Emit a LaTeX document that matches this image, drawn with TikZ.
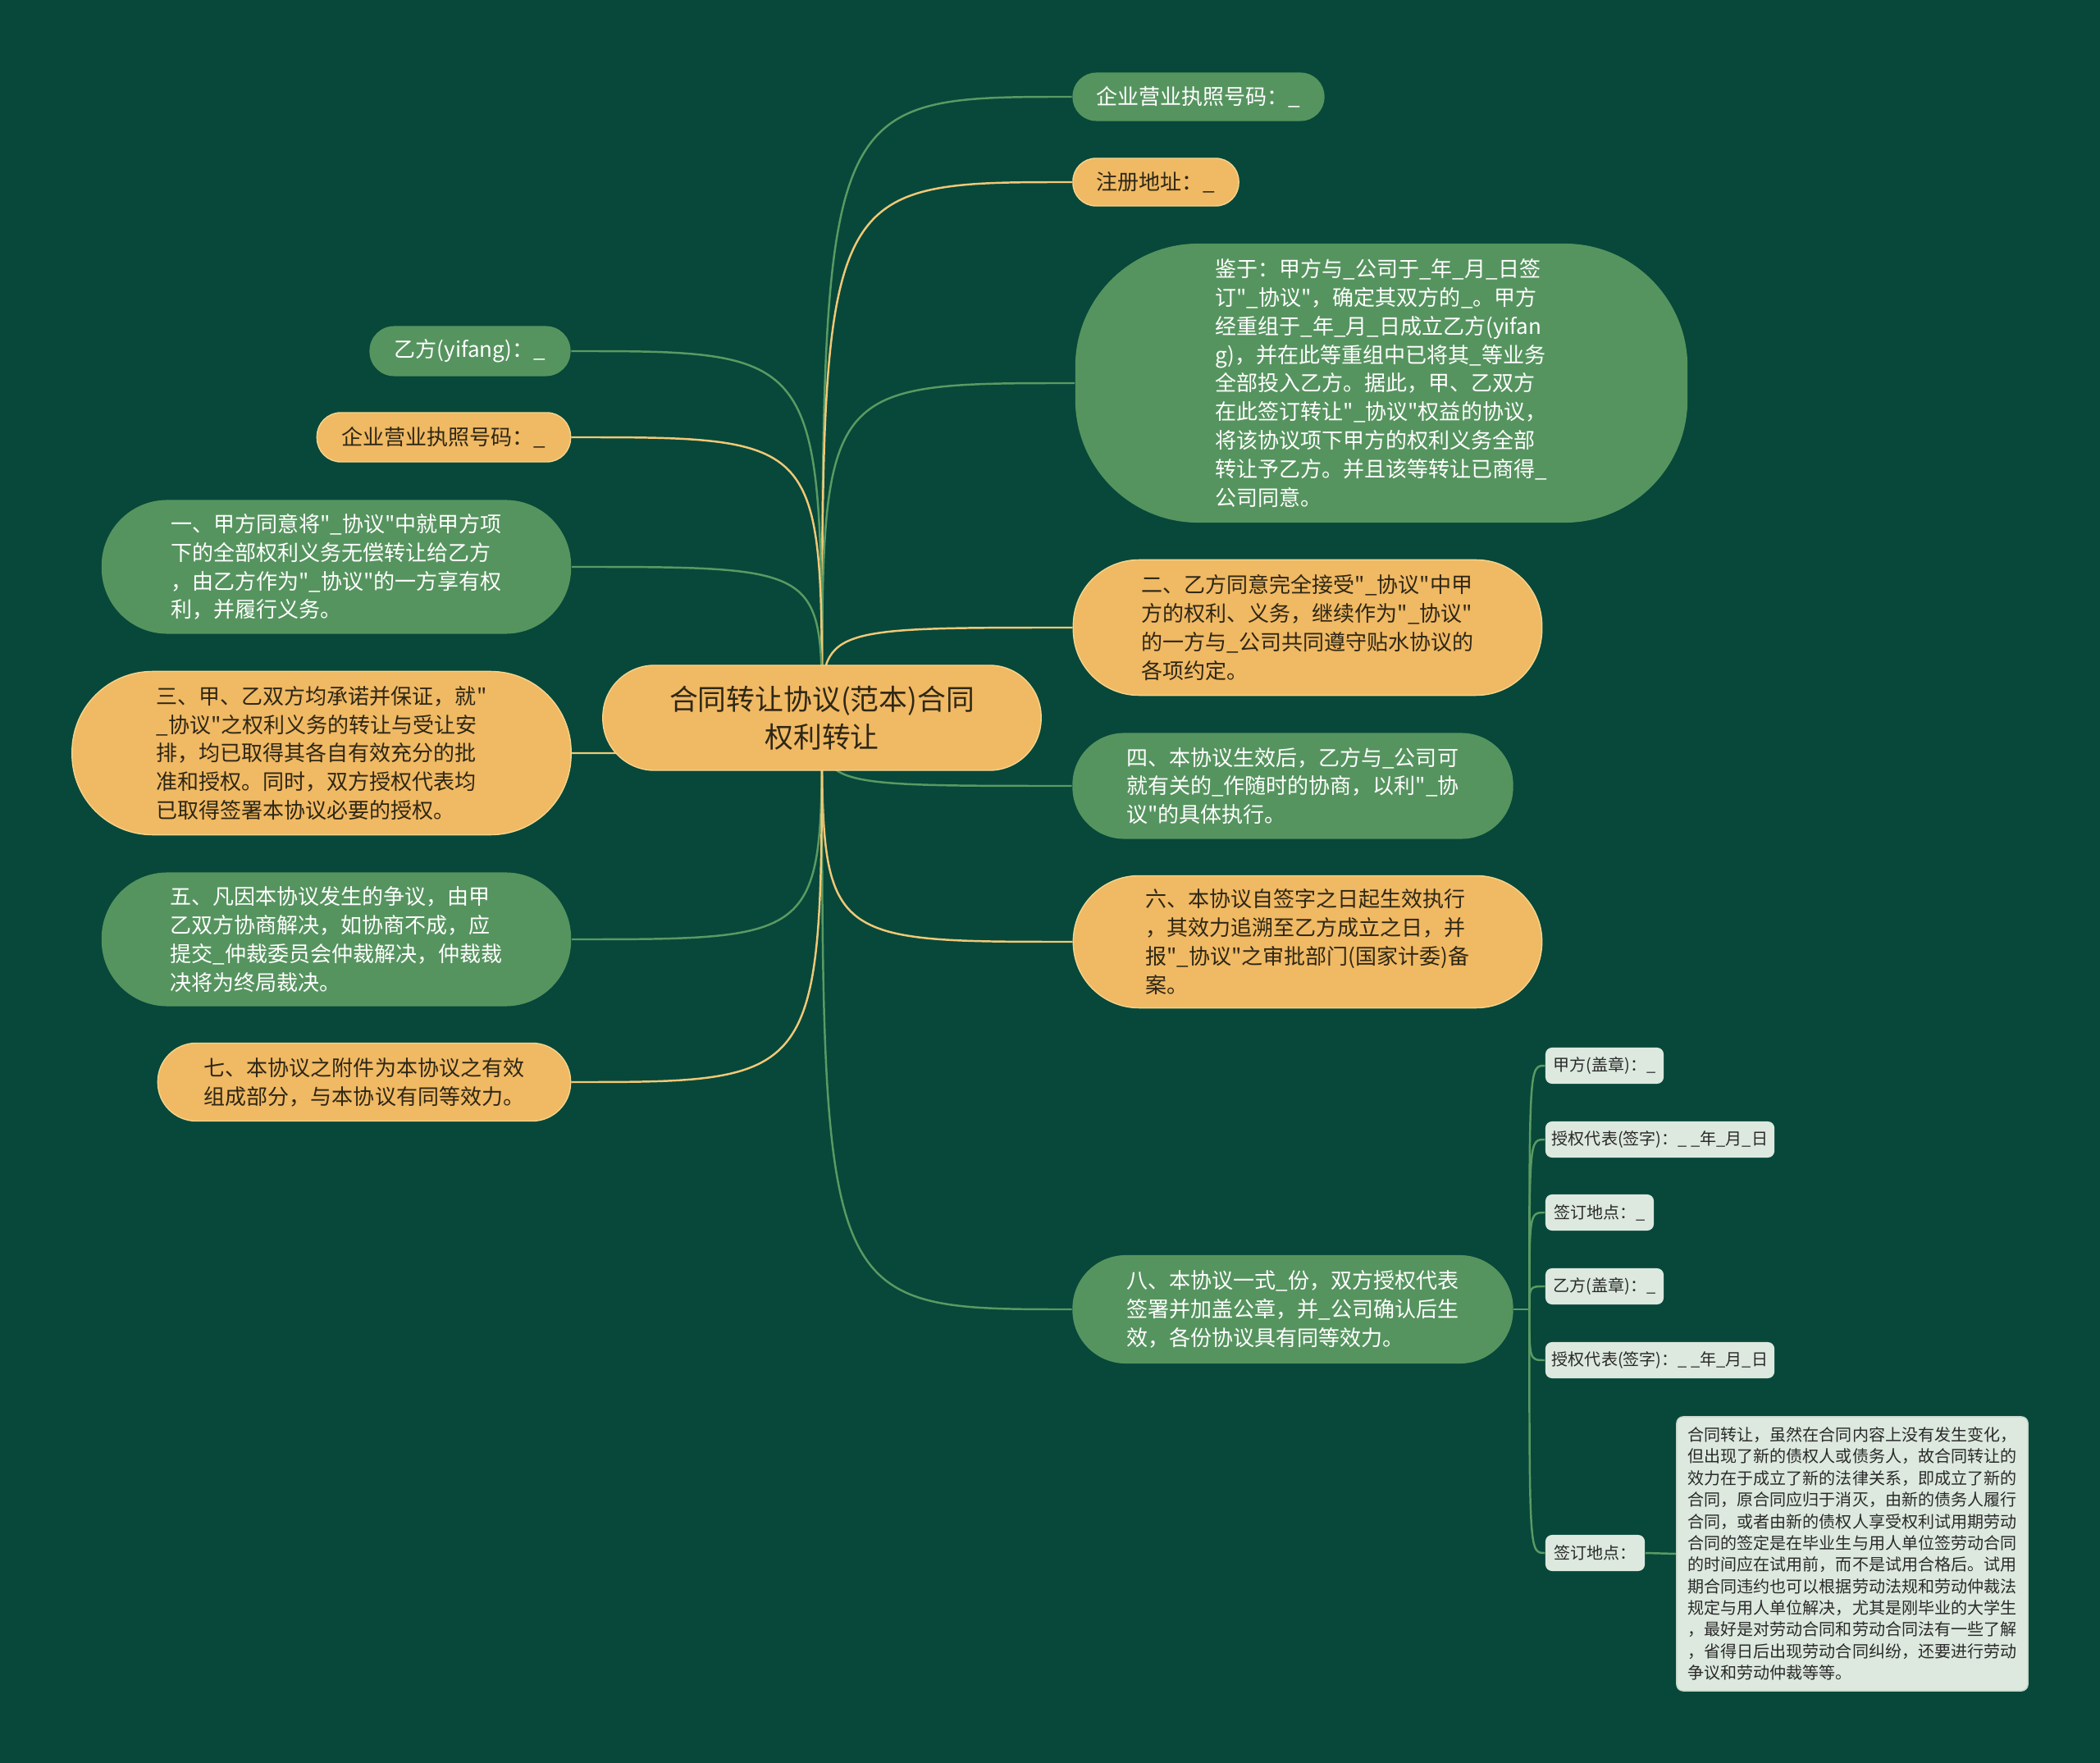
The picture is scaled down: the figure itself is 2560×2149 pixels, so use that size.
\documentclass[tikz,border=0pt]{standalone}
\usepackage{fontspec}
\setmainfont{Noto Sans CJK SC}[Ligatures=TeXOff]
\definecolor{bgc}{HTML}{07483A}
\definecolor{gfill}{HTML}{56945F}
\definecolor{ofill}{HTML}{F0B963}
\definecolor{oline}{HTML}{F6D48C}
\definecolor{lfill}{HTML}{DDE9DF}
\definecolor{lline}{HTML}{C5D6C8}
\definecolor{otext}{HTML}{2E2716}
\definecolor{ltext}{HTML}{2A2A2A}
\definecolor{glink}{HTML}{5A9A63}
\definecolor{olink}{HTML}{F2C877}
\pgfdeclarelayer{bg}
\pgfsetlayers{bg,main}
\tikzset{
  box/.style={inner sep=0pt, align=left, font=\fontsize{7.4pt}{9.9pt}\selectfont},
  gnode/.style={box, fill=gfill, text=white},
  onode/.style={box, fill=ofill, draw=oline, line width=0.4pt, text=otext},
  lnode/.style={inner sep=0pt, align=left, fill=lfill, text=ltext, rounded corners=0.08cm, font=\fontsize{5.7pt}{7.5pt}\selectfont},
  rootnode/.style={inner sep=0pt, align=center, fill=ofill, draw=oline, line width=0.4pt, text=otext, font=\fontsize{9.9pt}{13pt}\selectfont},
  glk/.style={draw=glink, line width=0.7pt},
  olk/.style={draw=olink, line width=0.7pt},
}
\begin{document}
\begin{tikzpicture}[x=0.01cm,y=-0.01cm]
\begin{pgfonlayer}{bg}
\fill[bgc] (0,0) rectangle (2560,2149);
\end{pgfonlayer}
\useasboundingbox (0,0) rectangle (2560,2149);

% root
\node[rootnode, minimum width=5.34cm, minimum height=1.28cm, rounded corners=0.63cm] (root) at (1002,875) {合同转让协议(范本)合同\\权利转让};

% right side
\node[gnode, minimum width=3.07cm, minimum height=0.59cm, rounded corners=0.29cm, align=center] (r1) at (1461,118) {企业营业执照号码：\_};
\node[onode, minimum width=2.02cm, minimum height=0.58cm, rounded corners=0.28cm, align=center] (r2) at (1409,222) {注册地址：\_};
\node[gnode, minimum width=7.46cm, minimum height=3.40cm, rounded corners=1.5cm] (r3) at (1684,467) {鉴于：甲方与\_公司于\_年\_月\_日签\\订"\_协议"，确定其双方的\_。甲方\\经重组于\_年\_月\_日成立乙方(yifan\\g)，并在此等重组中已将其\_等业务\\全部投入乙方。据此，甲、乙双方\\在此签订转让"\_协议"权益的协议，\\将该协议项下甲方的权利义务全部\\转让予乙方。并且该等转让已商得\_\\公司同意。};
\node[onode, minimum width=5.71cm, minimum height=1.65cm, rounded corners=0.8cm] (r4) at (1594,765) {二、乙方同意完全接受"\_协议"中甲\\方的权利、义务，继续作为"\_协议"\\的一方与\_公司共同遵守贴水协议的\\各项约定。};
\node[gnode, minimum width=5.37cm, minimum height=1.29cm, rounded corners=0.63cm] (r5) at (1576,958) {四、本协议生效后，乙方与\_公司可\\就有关的\_作随时的协商，以利"\_协\\议"的具体执行。};
\node[onode, minimum width=5.71cm, minimum height=1.61cm, rounded corners=0.8cm] (r6) at (1594,1148) {六、本协议自签字之日起生效执行\\，其效力追溯至乙方成立之日，并\\报"\_协议"之审批部门(国家计委)备\\案。};
\node[gnode, minimum width=5.37cm, minimum height=1.32cm, rounded corners=0.65cm] (r7) at (1576,1596) {八、本协议一式\_份，双方授权代表\\签署并加盖公章，并\_公司确认后生\\效，各份协议具有同等效力。};

% left side
\node[gnode, minimum width=2.45cm, minimum height=0.61cm, rounded corners=0.3cm, align=center] (l1) at (573,428) {乙方(yifang)：\_};
\node[onode, minimum width=3.09cm, minimum height=0.60cm, rounded corners=0.29cm, align=center] (l2) at (541,533) {企业营业执照号码：\_};
\node[gnode, minimum width=5.72cm, minimum height=1.63cm, rounded corners=0.8cm] (l3) at (410,691) {一、甲方同意将"\_协议"中就甲方项\\下的全部权利义务无偿转让给乙方\\，由乙方作为"\_协议"的一方享有权\\利，并履行义务。};
\node[onode, minimum width=6.08cm, minimum height=1.99cm, rounded corners=0.98cm] (l4) at (392,918) {三、甲、乙双方均承诺并保证，就"\\\_协议"之权利义务的转让与受让安\\排，均已取得其各自有效充分的批\\准和授权。同时，双方授权代表均\\已取得签署本协议必要的授权。};
\node[gnode, minimum width=5.72cm, minimum height=1.63cm, rounded corners=0.8cm] (l5) at (410,1145) {五、凡因本协议发生的争议，由甲\\乙双方协商解决，如协商不成，应\\提交\_仲裁委员会仲裁解决，仲裁裁\\决将为终局裁决。};
\node[onode, minimum width=5.03cm, minimum height=0.95cm, rounded corners=0.47cm] (l6) at (444,1319) {七、本协议之附件为本协议之有效\\组成部分，与本协议有同等效力。};

% sub nodes of r7
\node[lnode, minimum width=1.44cm, minimum height=0.44cm] (s1) at (1956,1299) {甲方(盖章)：\_};
\node[lnode, minimum width=2.79cm, minimum height=0.44cm] (s2) at (2023.5,1389) {授权代表(签字)：\_ \_年\_月\_日};
\node[lnode, minimum width=1.32cm, minimum height=0.44cm] (s3) at (1950,1478) {签订地点：\_};
\node[lnode, minimum width=1.44cm, minimum height=0.44cm] (s4) at (1956,1568) {乙方(盖章)：\_};
\node[lnode, minimum width=2.79cm, minimum height=0.44cm] (s5) at (2023.5,1658) {授权代表(签字)：\_ \_年\_月\_日};
\node[lnode, minimum width=1.21cm, minimum height=0.44cm] (s6) at (1944.5,1893) {签订地点：};
\node[lnode, draw=lline, line width=0.4pt, minimum width=4.28cm, minimum height=3.34cm] (note) at (2258,1894) {合同转让，虽然在合同内容上没有发生变化，\\但出现了新的债权人或债务人，故合同转让的\\效力在于成立了新的法律关系，即成立了新的\\合同，原合同应归于消灭，由新的债务人履行\\合同，或者由新的债权人享受权利试用期劳动\\合同的签定是在毕业生与用人单位签劳动合同\\的时间应在试用前，而不是试用合格后。试用\\期合同违约也可以根据劳动法规和劳动仲裁法\\规定与用人单位解决，尤其是刚毕业的大学生\\，最好是对劳动合同和劳动合同法有一些了解\\，省得日后出现劳动合同纠纷，还要进行劳动\\争议和劳动仲裁等等。};

\coordinate (trunk) at ([xshift=0.19cm]r7.east);

\begin{pgfonlayer}{bg}
% root connectors
\draw[glk] (root.center) .. controls (root.center |- r1.west) .. (r1.west);
\draw[olk] (root.center) .. controls (root.center |- r2.west) .. (r2.west);
\draw[glk] (root.center) .. controls (root.center |- r3.west) .. (r3.west);
\draw[olk] (root.center) .. controls (root.center |- r4.west) .. (r4.west);
\draw[glk] (root.center) .. controls (root.center |- r5.west) .. (r5.west);
\draw[olk] (root.center) .. controls (root.center |- r6.west) .. (r6.west);
\draw[glk] (root.center) .. controls (root.center |- r7.west) .. (r7.west);
\draw[glk] (root.center) .. controls (root.center |- l1.east) .. (l1.east);
\draw[olk] (root.center) .. controls (root.center |- l2.east) .. (l2.east);
\draw[glk] (root.center) .. controls (root.center |- l3.east) .. (l3.east);
\draw[olk] (root.center) .. controls (root.center |- l4.east) .. (l4.east);
\draw[glk] (root.center) .. controls (root.center |- l5.east) .. (l5.east);
\draw[olk] (root.center) .. controls (root.center |- l6.east) .. (l6.east);
% sub connectors
\draw[glk] (r7.east) -- (trunk);
\foreach \s in {s1,s2,s3,s4,s5,s6}{
  \draw[glk] (trunk) .. controls (trunk |- \s.west) .. (\s.west);
}
\draw[glk] (s6.east) -- (note.west);
\end{pgfonlayer}
\end{tikzpicture}
\end{document}
